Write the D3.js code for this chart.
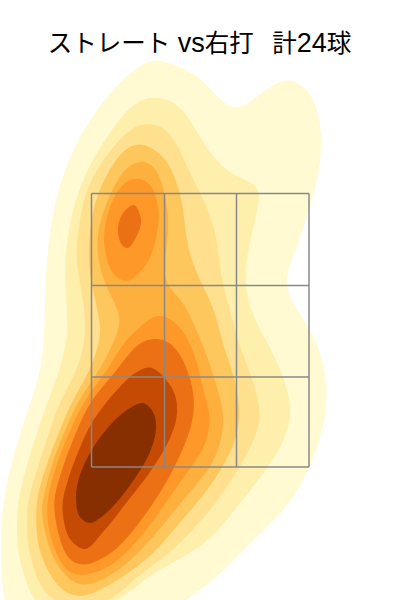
<!DOCTYPE html>
<html><head><meta charset="utf-8">
<script src="https://cdnjs.cloudflare.com/ajax/libs/d3/7.8.5/d3.min.js"></script>
<style>html,body{margin:0;padding:0;background:#fff}svg{display:block}</style>
</head><body><svg id="c" width="400" height="600"></svg>
<script>
const titleParts = [["ストレート",0],[" vs",1],["右打",0],["   ",2],["計",0],["24",1],["球",0]];
const titleSizes = [24.5,27,22];
const zoneX = [-10.85,-3.55,3.65,10.9];
const zoneY = [40.65,31.45,22.3,13.3];
const levelColors = ["#fffad2","#feefad","#fee08f","#fec75e","#feb03f","#fe9828","#ec7014","#c54a03","#872f00"];

const level1 = [[-3.5,54],[0,52.4],[1.3,50.7],[2.7,49.4],[3.8,49.2],[5,49.7],[7,51.4],[8.8,52.2],[10.3,51.5],[11.7,49.7],[12.3,46],[11.8,42],[10.8,38.7],[9.7,35.3],[8.8,33],[8.6,31.7],[9,30],[10.8,27.5],[12.3,24.2],[12.8,20.8],[12.4,17.5],[11.3,13.8],[9.4,10.2],[7,7.5],[5,5.7],[2.7,3.2],[1,1.8],[0,1],[-2.5,-1],[-10,-2.5],[-19,-2.5],[-19.8,0.8],[-20,5.8],[-19.6,10.8],[-18.3,15.8],[-17,19.5],[-15.8,23.2],[-15.5,27.5],[-15.5,32.3],[-15,37.3],[-13.9,42.3],[-12.1,46.3],[-10,49.5],[-7.7,52.2],[-5.3,54]];
const level2 = [[-4.2,50.3],[-2,49.7],[0,46.3],[1,44.7],[2.3,43.2],[4,42.2],[5.4,41.7],[6,40.7],[5.8,39],[4.8,35.3],[4.5,32.3],[4.7,30],[5.7,27.5],[8,23.5],[9.2,19.5],[8.9,17.2],[7.7,14.5],[5.7,11.8],[3.3,8.8],[0.7,5.5],[-3.7,3.3],[-6,1.7],[-8,0],[-11,-1.2],[-15,-1.2],[-16.8,0],[-17.5,2.2],[-18.3,4.8],[-18.3,8.2],[-18.2,10],[-17.2,14],[-16.2,17],[-15.2,20],[-14,23],[-13.3,26],[-13.2,28.3],[-13.6,32.3],[-13.3,36.7],[-12,41.7],[-10,45.3],[-7.7,48.7],[-5.7,50.2]];
const level3 = [[-5,47.7],[-3.3,47.2],[-2,45],[-1,42.7],[0,40.7],[1,38.7],[1.7,36],[2,33.3],[2.3,31.5],[3,29],[3.8,25.7],[5.2,22.3],[6.2,18.7],[5.6,16.2],[3.7,12.8],[1.7,9.8],[0,7.8],[-2.3,5.3],[-4.5,3.7],[-6.7,2],[-8.7,0],[-11,-0.6],[-13,-0.6],[-15.5,0.2],[-16.8,3.5],[-17.3,5.8],[-17.3,8.5],[-17.2,10],[-16.6,12],[-16,14],[-15,17],[-14,20],[-12.2,23],[-11.5,26],[-11.5,27.8],[-11.6,29.5],[-12.3,33.3],[-12.4,35],[-11.8,40],[-10.3,43.3],[-8,46.2],[-6.3,47.5]];
const level4 = [[-5.7,45.9],[-3.3,44.2],[-2.3,41.7],[-1.7,39.5],[-1.5,37],[-1,34.3],[0.2,31.5],[1.5,29],[2.2,25.7],[3.5,22.3],[4.1,18.7],[3.6,15.8],[2,12.8],[0,10],[-2,7.8],[-4,5.3],[-6,3.5],[-8.2,2],[-10,1],[-11.5,0.3],[-13,0.5],[-14.2,1.3],[-15.3,3],[-16,4.8],[-16.4,6.7],[-16.4,10],[-15.8,12],[-15.2,14],[-14,17],[-12.8,20],[-10.9,23],[-10,26],[-9.9,27.7],[-11,32],[-11.2,35],[-10.8,39],[-9.7,42],[-7.7,45.2]];
const level5 = [[-5.7,44.2],[-4,43],[-3.1,38.7],[-3.2,36.3],[-3.6,33.7],[-3.5,31.5],[-1.7,30],[-0.2,26.7],[1,23.7],[1.7,21.2],[2.5,18.7],[2.1,15.5],[1,13.2],[0,12],[-2.5,9],[-5.5,5.3],[-8,3],[-10,1.9],[-11.5,1.4],[-12.8,1.8],[-14,3],[-15.1,5],[-15.8,8],[-15.8,10],[-15.2,12],[-14.7,14],[-13.5,17],[-12.2,20],[-10,23],[-8.5,26],[-7.7,28.3],[-9.3,31],[-10.3,34],[-10.3,37],[-9.3,40],[-7.7,43.2]];
const level6a = [[-6.2,42.1],[-5,41.5],[-4.2,39.3],[-4.3,36.7],[-5.3,33.7],[-7.3,31.9],[-8.7,32.7],[-9.5,35],[-9.5,37.3],[-8.7,40],[-7.5,41.7]];
const level6b = [[-4,28.6],[-2,27.7],[-0.3,24.3],[0.3,20.8],[1.1,18.7],[0.8,16.2],[0,14.5],[-2,11.8],[-5.3,7],[-7.5,4.5],[-9.5,3],[-11.3,2.5],[-12.6,2.5],[-13.6,3.2],[-14.6,5],[-15.3,7.7],[-15.3,10],[-14.8,12],[-14.2,14],[-13,17],[-11.6,20],[-9.2,23],[-7.5,26],[-6.3,27],[-5,28.2]];
const level7a = [[-6.6,39.5],[-5.9,38],[-6.2,36.7],[-7.2,35.2],[-7.8,35.5],[-8.2,37],[-7.7,38.7]];
const level7b = [[-3.7,26.3],[-2,24.9],[-0.8,21.8],[-0.5,19.5],[-0.9,16.8],[-3.1,12],[-6,7.7],[-8.3,5],[-10.2,3.9],[-11.5,3.4],[-12.9,3.8],[-13.7,5],[-14.4,7.4],[-14.7,10],[-14.1,12],[-13.5,14],[-12.3,17],[-11,20],[-8.2,23],[-6.2,26]];
const level8 = [[-4.8,23.2],[-2.7,21],[-2.3,18.7],[-3,16.2],[-5,12.8],[-7,10.2],[-9.7,6.8],[-11.5,5.1],[-13,6.1],[-13.7,8.5],[-13.7,10],[-13.2,12],[-12.5,14],[-11.2,17],[-10.3,18.5],[-8.3,21],[-6.3,22.8]];
const level9 = [[-5.7,19.7],[-4.7,18.8],[-4.4,17.2],[-5,14.8],[-6.3,12.5],[-8.3,9.8],[-10,8.2],[-11,7.7],[-12,8.3],[-12.4,10.2],[-12,12.5],[-10.7,15.2],[-8.7,17.8],[-7,19.2]];

const rings = [[level1,0,1],[level2,1,1],[level3,2,1],[level4,3,1],[level5,4,1],[level6a,5,0],[level6b,5,1],[level7a,6,0],[level7b,6,1],[level8,7,0],[level9,8,0]];
const x = d3.scaleLinear().domain([-20,20]).range([0,400]);
const y = d3.scaleLinear().domain([0,60]).range([600,0]);
const svg = d3.select("#c");
const smooth = d3.line().x(d=>x(d[0])).y(d=>y(d[1])).curve(d3.curveBasisClosed);
const tight = d3.line().x(d=>x(d[0])).y(d=>y(d[1])).curve(d3.curveCatmullRomClosed.alpha(0.5));

svg.selectAll("path.level").data(rings).join("path").attr("class","level")
  .attr("d",d=>(d[2]?smooth:tight)(d[0])).attr("fill",d=>levelColors[d[1]]).attr("stroke","none");

const gridStyle = s=>s.attr("stroke","#888888").attr("stroke-width",1.5).attr("fill","none");
svg.selectAll("line.v").data(zoneX).join("line").attr("class","v")
  .attr("x1",d=>x(d)).attr("x2",d=>x(d)).attr("y1",y(zoneY[0])).attr("y2",y(zoneY[3])).call(gridStyle);
svg.selectAll("line.h").data(zoneY).join("line").attr("class","h")
  .attr("y1",d=>y(d)).attr("y2",d=>y(d)).attr("x1",x(zoneX[0])).attr("x2",x(zoneX[3])).call(gridStyle);

svg.append("text").attr("x",199.5).attr("y",52).attr("text-anchor","middle")
  .attr("font-family","'Liberation Sans','Noto Sans CJK JP',sans-serif")
  .attr("fill","#000").style("white-space","pre")
  .selectAll("tspan").data(titleParts).join("tspan").attr("font-size",d=>titleSizes[d[1]]).text(d=>d[0]);
</script></body></html>
